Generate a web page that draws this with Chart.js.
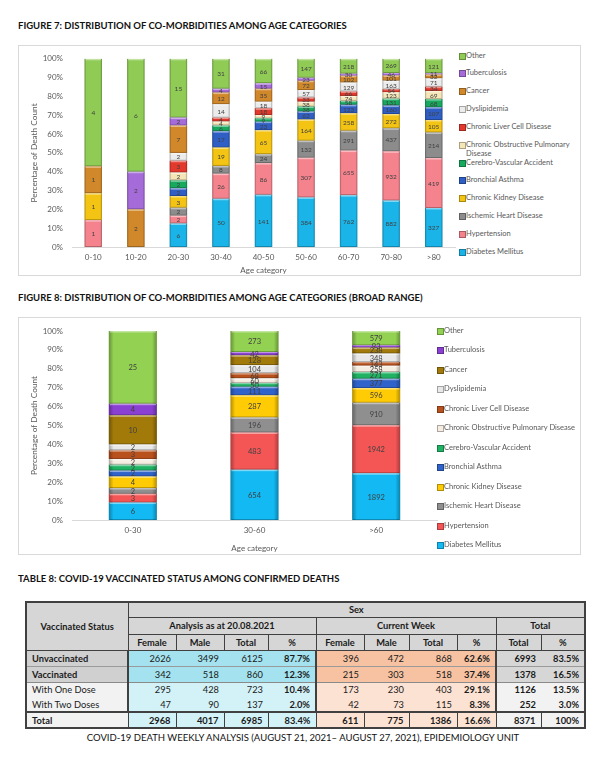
<!DOCTYPE html>
<html>
<head>
<meta charset="utf-8">
<script src="https://cdn.jsdelivr.net/npm/chart.js@4.4.0/dist/chart.umd.min.js"></script>
<style>
  body { margin: 0; width: 600px; height: 777px; position: relative; background: #fff; overflow: hidden;
         font-family: Lato, 'Open Sans', sans-serif; }
  .ttl { position: absolute; left: 18px; font-weight: bold; font-size: 9.5px; color: #111; white-space: nowrap; }
  .box { position: absolute; left: 18px; width: 563px; border: 1px solid #d9d9d9; box-sizing: border-box; }
  canvas { position: absolute; }
  .lg { position: absolute; font-size: 7.5px; color: #595959; line-height: 9.5px; }
  .lg i { position: absolute; left: 0; top: 2px; width: 5px; height: 5px; border: 1px solid rgba(0,0,0,0.3); }
  .lg span { position: absolute; white-space: normal; }
  #tbl { position: absolute; left: 25px; top: 601px; border-collapse: collapse; table-layout: fixed; width: 559px;
         font-size: 9.3px; color: #1a1a1a; border: 2px solid #404040; }
  #tbl th { background: #d6d6d6; border: 1.5px solid #404040; font-weight: bold; padding: 0; text-align: center; }
  #tbl td { padding: 0 5px 0 0; text-align: right; border: none; }
  #tbl td.lab { text-align: left; padding-left: 5px; border-right: 2px solid #404040; }
  #tbl td.sep { border-right: 2px solid #404040; }
  #tbl td.b { font-weight: bold; }
  #tbl tr.tot td { background: #d0d0d0; font-weight: bold; border: 1.5px solid #404040; border-top: 2px solid #404040; }
  .cap { position: absolute; left: 0; width: 606px; text-align: center; font-size: 9.5px; color: #111; top: 732px; }
</style>
</head>
<body>
<div class="ttl" style="top:20px">FIGURE 7: DISTRIBUTION OF CO-MORBIDITIES AMONG AGE CATEGORIES</div>
<div class="box" style="top:45px;height:231px"></div>
<canvas id="fig7" width="440" height="230" style="left:18px;top:45px;width:440px;height:230px"></canvas>
<div id="leg7"></div>

<div class="ttl" style="top:292px">FIGURE 8: DISTRIBUTION OF CO-MORBIDITIES AMONG AGE CATEGORIES (BROAD RANGE)</div>
<div class="box" style="top:317px;height:238px"></div>
<canvas id="fig8" width="420" height="236" style="left:18px;top:317px;width:420px;height:236px"></canvas>
<div id="leg8"></div>

<div class="ttl" style="top:573px">TABLE 8: COVID-19 VACCINATED STATUS AMONG CONFIRMED DEATHS</div>
<table id="tbl"></table>
<div class="cap">COVID-19 DEATH WEEKLY ANALYSIS (AUGUST 21, 2021– AUGUST 27, 2021), EPIDEMIOLOGY UNIT</div>

<script>
// ---- data: figure 7 (age categories), bottom of stack first ----
var diseases = ['Diabetes Mellitus', 'Hypertension', 'Ischemic Heart Disease', 'Chronic Kidney Disease',
  'Bronchial Asthma', 'Cerebro-Vascular Accident', 'Chronic Obstructive Pulmonary Disease',
  'Chronic Liver Cell Disease', 'Dyslipidemia', 'Cancer', 'Tuberculosis', 'Other'];

var ageCats7 = ['0-10', '10-20', '20-30', '30-40', '40-50', '50-60', '60-70', '70-80', '>80'];
var diabetes7     = [0, 0, 6, 50, 141, 384, 762, 882, 327];
var hypertension7 = [1, 0, 2, 26, 86, 307, 655, 932, 419];
var ihd7          = [0, 0, 2, 8, 24, 132, 291, 437, 214];
var kidney7       = [1, 0, 3, 19, 65, 164, 258, 272, 105];
var asthma7       = [0, 0, 2, 17, 23, 62, 123, 160, 107];
var cva7          = [0, 0, 2, 6, 9, 38, 58, 131, 68];
var copd7         = [0, 0, 2, 4, 9, 38, 74, 123, 69];
var liver7        = [0, 0, 3, 4, 18, 33, 66, 54, 34];
var lipid7        = [0, 0, 2, 14, 18, 57, 129, 163, 71];
var cancer7       = [1, 2, 7, 12, 35, 72, 102, 101, 32];
var tb7           = [0, 2, 2, 4, 15, 23, 30, 46, 11];
var other7        = [4, 6, 15, 31, 66, 147, 218, 269, 121];

// ---- data: figure 8 (broad range) ----
var ageCats8 = ['0-30', '30-60', '>60'];
var diabetes8     = [6, 654, 1892];
var hypertension8 = [3, 483, 1942];
var ihd8          = [2, 196, 910];
var kidney8       = [4, 287, 596];
var asthma8       = [2, 111, 377];
var cva8          = [2, 50, 271];
var copd8         = [2, 60, 258];
var liver8        = [3, 68, 143];
var lipid8        = [2, 104, 348];
var cancer8       = [10, 128, 238];
var tb8           = [4, 42, 93];
var other8        = [25, 273, 579];

var colors7 = ['#1ab4e8', '#f4838d', '#8c8c8c', '#f3c414', '#2f5fc4', '#17a95e',
  '#f5e6b8', '#e2392c', '#ececec', '#d1882a', '#a56bd8', '#8fcb55'];
var colors8 = ['#12b9f2', '#f45656', '#8f8f8f', '#ffcb05', '#2f63c9', '#1eb262',
  '#f6ede2', '#b9511d', '#e8e8e8', '#a27a0a', '#8a40d2', '#93d152'];

// ---- table 8 ----
var statusRows  = ['Unvaccinated', 'Vaccinated', 'With One Dose', 'With Two Doses', 'Total'];
var asAtFemale  = [2626, 342, 295, 47, 2968];
var asAtMale    = [3499, 518, 428, 90, 4017];
var asAtTotal   = [6125, 860, 723, 137, 6985];
var asAtPct     = ['87.7%', '12.3%', '10.4%', '2.0%', '83.4%'];
var weekFemale  = [396, 215, 173, 42, 611];
var weekMale    = [472, 303, 230, 73, 775];
var weekTotal   = [868, 518, 403, 115, 1386];
var weekPct     = ['62.6%', '37.4%', '29.1%', '8.3%', '16.6%'];
var allTotal    = [6993, 1378, 1126, 252, 8371];
var allPct      = ['83.5%', '16.5%', '13.5%', '3.0%', '100%'];

Chart.defaults.font.family = 'Lato, "Open Sans", sans-serif';
Chart.defaults.color = '#595959';

// bevel shading + count labels drawn over each segment
var segmentDecor = {
  id: 'segmentDecor',
  afterDatasetsDraw: function (chart, args, opts) {
    var ctx = chart.ctx;
    ctx.save();
    chart.data.datasets.forEach(function (ds, i) {
      chart.getDatasetMeta(i).data.forEach(function (el, j) {
        if (!ds.counts[j]) return;
        var x0 = el.x - el.width / 2, top = Math.min(el.y, el.base), h = Math.abs(el.base - el.y);
        var g = ctx.createLinearGradient(x0, 0, x0 + el.width, 0);
        g.addColorStop(0, 'rgba(0,0,0,0.30)');
        g.addColorStop(0.1, 'rgba(0,0,0,0)');
        g.addColorStop(0.9, 'rgba(0,0,0,0)');
        g.addColorStop(1, 'rgba(0,0,0,0.30)');
        ctx.fillStyle = g;
        ctx.fillRect(x0, top, el.width, h);
        ctx.fillStyle = 'rgba(255,255,255,0.45)';
        ctx.fillRect(x0 + 1, top, el.width - 2, Math.min(1.5, h / 3));
        ctx.fillStyle = 'rgba(0,0,0,0.25)';
        ctx.fillRect(x0 + 1, top + h - Math.min(1, h / 4), el.width - 2, Math.min(1, h / 4));
      });
    });
    ctx.font = opts.size + 'px Lato, sans-serif';
    ctx.fillStyle = '#404040';
    ctx.textAlign = 'center';
    ctx.textBaseline = 'middle';
    chart.data.datasets.forEach(function (ds, i) {
      chart.getDatasetMeta(i).data.forEach(function (el, j) {
        if (!ds.counts[j]) return;
        ctx.fillText(ds.counts[j], el.x, (el.y + el.base) / 2 + 0.5);
      });
    });
    ctx.restore();
  }
};

function toPercent(series) {
  var totals = series[0].map(function (_, j) {
    return series.reduce(function (s, arr) { return s + arr[j]; }, 0);
  });
  return series.map(function (arr) {
    return arr.map(function (v, j) { return v / totals[j] * 100; });
  });
}

function createStackChart(canvasId, labels, series, colors, o) {
  var pct = toPercent(series);
  return new Chart(document.getElementById(canvasId), {
    type: 'bar',
    data: {
      labels: labels,
      datasets: series.map(function (arr, i) {
        return { label: diseases[i], data: pct[i], counts: arr, backgroundColor: colors[i], borderWidth: 0,
                 categoryPercentage: 1, barPercentage: o.barPct };
      }),
    },
    options: {
      responsive: false, animation: false,
      layout: { padding: { left: 8, right: o.padRight, top: o.padTop, bottom: 0 } },
      plugins: { legend: { display: false }, tooltip: { enabled: false }, segmentDecor: { size: o.labelSize } },
      scales: {
        x: {
          stacked: true, grid: { display: false, drawTicks: false }, border: { color: '#d9d9d9' },
          ticks: { font: { size: 8 }, padding: 6, maxRotation: 0 },
          title: { display: true, text: 'Age category', font: { size: 8 }, padding: 0 },
          afterFit: function (s) { s.height = o.xHeight; },
        },
        y: {
          stacked: true, min: 0, max: 100, grid: { display: false, drawTicks: false }, border: { display: false },
          ticks: { stepSize: 10, padding: 9, font: { size: 8 }, callback: function (v) { return v + '%'; } },
          title: { display: true, text: 'Percentage of Death Count', font: { size: 8.3 }, padding: { top: 3, bottom: 0 } },
          afterFit: function (s) { s.width = 46; },
        },
      },
    },
    plugins: [segmentDecor],
  });
}

function buildLegend(holderId, chart, left, firstY, step, textWidth) {
  var holder = document.getElementById(holderId);
  var ds = chart.data.datasets.slice().reverse();
  ds.forEach(function (d, k) {
    var div = document.createElement('div');
    div.className = 'lg';
    div.style.left = left + 'px';
    div.style.top = (firstY + k * step - 5) + 'px';
    div.innerHTML = '<i style="background:' + d.backgroundColor + '"></i><span style="left:7px;width:' + textWidth + 'px">' + d.label + '</span>';
    holder.appendChild(div);
  });
}

var fig7 = createStackChart('fig7', ageCats7,
  [diabetes7, hypertension7, ihd7, kidney7, asthma7, cva7, copd7, liver7, lipid7, cancer7, tb7, other7],
  colors7, { barPct: 0.41, padRight: 3, padTop: 8, xHeight: 28, labelSize: 6.5 });
var fig8 = createStackChart('fig8', ageCats8,
  [diabetes8, hypertension8, ihd8, kidney8, asthma8, cva8, copd8, liver8, lipid8, cancer8, tb8, other8],
  colors8, { barPct: 0.395, padRight: 1, padTop: 14, xHeight: 33, labelSize: 7.5 });

buildLegend('leg7', fig7, 459, 55.5, 17.85, 108);
buildLegend('leg8', fig8, 437, 330.5, 19.5, 140);

// ---- table ----
(function () {
  var widths = [102, 48, 48, 44, 48, 48, 45, 48, 39, 45, 44];
  var h = '<colgroup>' + widths.map(function (w) { return '<col style="width:' + w + 'px">'; }).join('') + '</colgroup>';
  h += '<tr style="height:15px"><th rowspan="3">Vaccinated Status</th><th colspan="10">Sex</th></tr>';
  h += '<tr style="height:17px"><th colspan="4">Analysis as at 20.08.2021</th><th colspan="4">Current Week</th><th colspan="2">Total</th></tr>';
  h += '<tr style="height:16px"><th>Female</th><th>Male</th><th>Total</th><th>%</th><th>Female</th><th>Male</th><th>Total</th><th>%</th><th>Total</th><th>%</th></tr>';
  var rowH = [16, 16, 15, 15, 16];
  statusRows.forEach(function (name, r) {
    var main = r < 2, tot = r === 4;
    var c1 = main ? '#a3e2ee' : '#d3f2f8', c2 = main ? '#f6c2a2' : '#fce2d3', c3 = main ? '#d6d6d6' : '#f2f2f2', c0 = main ? '#d0d0d0' : '#f2f2f2';
    var line = r === 0 ? 'border-bottom:1px solid #9a9a9a;' : (r === 1 ? 'border-bottom:1px solid #8a8a8a;' : '');
    var cell = function (v, bg, cls) { return '<td class="' + (cls || '') + '" style="background:' + bg + ';' + line + '">' + v + '</td>'; };
    h += '<tr class="' + (tot ? 'tot' : '') + '" style="height:' + rowH[r] + 'px">';
    h += '<td class="lab' + (main ? ' b' : '') + '" style="background:' + c0 + ';' + line + '">' + name + '</td>';
    h += cell(asAtFemale[r], c1) + cell(asAtMale[r], c1) + cell(asAtTotal[r], c1) + cell(asAtPct[r], c1, 'b sep');
    h += cell(weekFemale[r], c2) + cell(weekMale[r], c2) + cell(weekTotal[r], c2) + cell(weekPct[r], c2, 'b sep');
    h += cell(allTotal[r], c3, 'b') + cell(allPct[r], c3, 'b');
    h += '</tr>';
  });
  document.getElementById('tbl').innerHTML = h;
})();
</script>
</body>
</html>
